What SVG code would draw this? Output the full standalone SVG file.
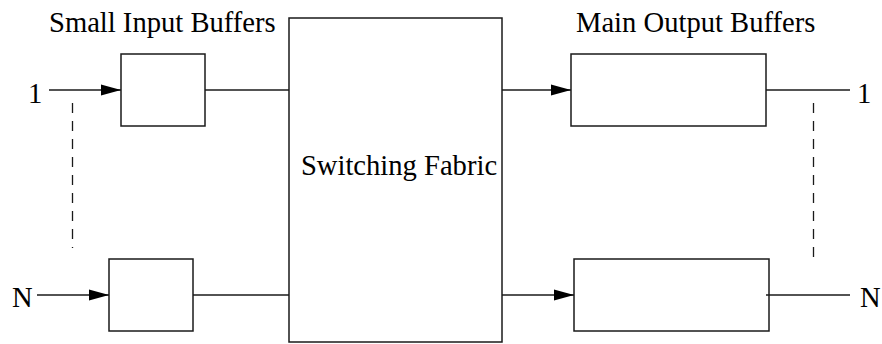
<svg xmlns="http://www.w3.org/2000/svg" width="882" height="344" viewBox="0 0 882 344">
<style>
.box{fill:#fff;stroke:#1a1a1a;stroke-width:1.5}
.ln{fill:none;stroke:#1a1a1a;stroke-width:1.5}
.dash{fill:none;stroke:#1a1a1a;stroke-width:1.3;stroke-dasharray:10 8}
text{font-family:"Liberation Serif","Times New Roman",serif;font-size:28.6px;fill:#000}
</style>
<defs>
<marker id="ah" markerUnits="userSpaceOnUse" markerWidth="22" markerHeight="14" refX="20" refY="7" orient="auto">
<path d="M0,1.5 L20,7 L0,12.5 Z" fill="#000"/>
</marker>
</defs>
<rect width="882" height="344" fill="#fff"/>
<text x="49" y="32">Small Input Buffers</text>
<text x="576" y="32">Main Output Buffers</text>
<g id="fabric">
<rect class="box" x="289" y="18" width="213" height="324"/>
<text x="399" y="175" text-anchor="middle">Switching Fabric</text>
</g>
<g id="in1"><rect class="box" x="121" y="54" width="84" height="72"/></g>
<g id="inN"><rect class="box" x="109" y="259" width="84" height="72"/></g>
<g id="out1"><rect class="box" x="571" y="54" width="195" height="72"/></g>
<g id="outN"><rect class="box" x="574" y="259" width="195" height="72"/></g>
<g id="labels">
<text x="28" y="103">1</text>
<text x="12" y="307">N</text>
<text x="857" y="103">1</text>
<text x="860" y="307">N</text>
</g>
<g id="connectors">
<line class="ln" x1="49" y1="90" x2="121" y2="90" marker-end="url(#ah)"/>
<line class="ln" x1="37" y1="295" x2="109" y2="295" marker-end="url(#ah)"/>
<line class="ln" x1="205" y1="90" x2="289" y2="90"/>
<line class="ln" x1="193" y1="295" x2="289" y2="295"/>
<line class="ln" x1="502" y1="90" x2="571" y2="90" marker-end="url(#ah)"/>
<line class="ln" x1="502" y1="295" x2="574" y2="295" marker-end="url(#ah)"/>
<line class="ln" x1="766" y1="90" x2="850" y2="90"/>
<line class="ln" x1="766" y1="295" x2="850" y2="295"/>
<line class="dash" x1="72.5" y1="103" x2="72.5" y2="248"/>
<line class="dash" x1="813.5" y1="103" x2="813.5" y2="258"/>
</g>
</svg>
